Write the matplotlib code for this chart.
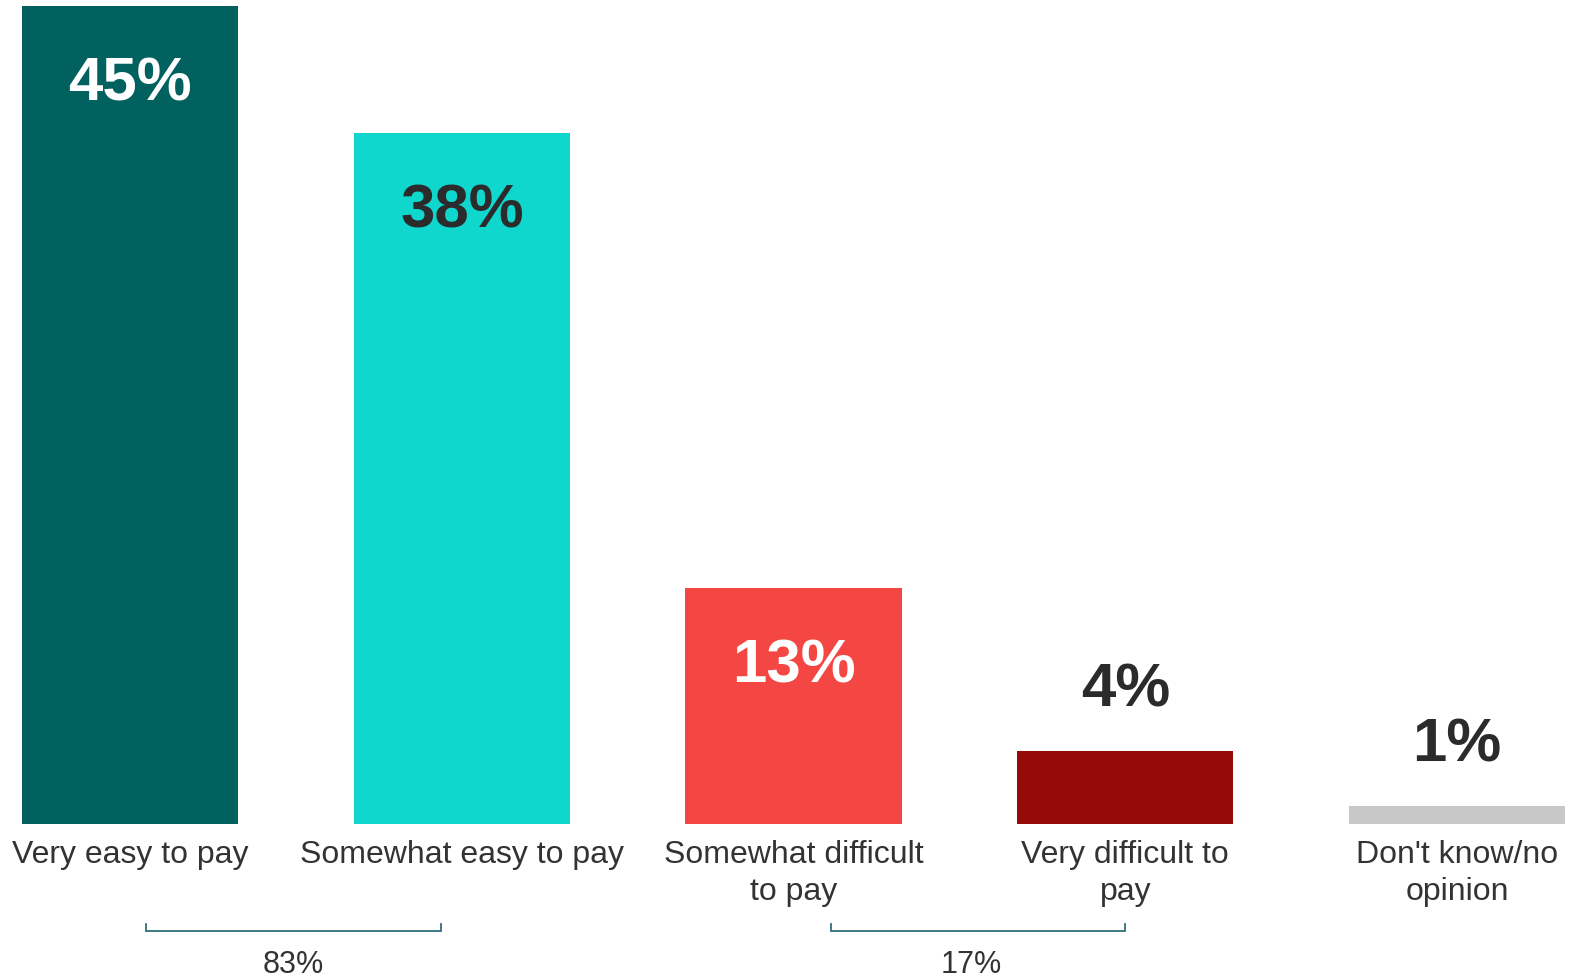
import matplotlib.pyplot as plt
import matplotlib as mpl
import numpy as np

mpl.rcParams['font.family'] = ['Liberation Sans', 'DejaVu Sans']

categories = ['Very easy to pay', 'Somewhat easy to pay', 'Somewhat difficult\nto pay',
              'Very difficult to\npay', "Don't know/no\nopinion"]
values = [45, 38, 13, 4, 1]
bar_colors = ['#00615E', '#0FD7CD', '#F44744', '#960A0A', '#C8C8C8']
label_inside = [True, True, True, False, False]
label_colors = ['white', '#2b2b2b', 'white', '#2b2b2b', '#2b2b2b']

# net groups: (first bar, last bar, total)
nets = [(0, 1, 83), (2, 3, 17)]
net_color = '#2F6F7C'
text_color = '#333333'

W, H = 1576, 977
X0, DX = 130.2, 331.7      # first bar centre and bar pitch, px
Y0, DY = 824.2, 18.18      # baseline and px per percent

def main():
    fig = plt.figure(figsize=(W / 100, H / 100), dpi=100)
    ax = fig.add_axes([0, 0, 1, 1])
    x = np.arange(len(values))
    ax.bar(x, values, width=0.652, color=bar_colors)

    for i, v in enumerate(values):
        if label_inside[i]:
            y = v - 4.33
        else:
            y = v + 3.3
        ax.text(x[i], y, '%d%%' % v, ha='center', va='center', fontsize=44.5,
                fontweight='bold', color=label_colors[i])
        ax.text(x[i], -0.88, categories[i], ha='center', va='top', fontsize=23,
                color=text_color, linespacing=1.3)

    # bracket under each net group
    for a, b, tot in nets:
        if a == 0:
            x0, x1 = x[a] + 0.047, x[b] - 0.064
            xt = (x0 + x1) / 2
        else:
            x0, x1 = x[a] + 0.112, x[b] - 0.0
            xt = (x0 + x1) / 2 - 0.021
        yb = -5.87
        ax.plot([x0, x0, x1, x1], [yb + 0.4, yb, yb, yb + 0.4], color=net_color,
                lw=1.3, solid_joinstyle='miter')
        ax.text(xt, -7.72, '%d%%' % tot, ha='center', va='center',
                fontsize=22, color=text_color)

    ax.set_xlim(-X0 / DX, (W - X0) / DX)
    ax.set_ylim(-(H - Y0) / DY, Y0 / DY)
    ax.axis('off')
    plt.savefig('out.png', dpi=100)

if __name__ == '__main__':
    main()
